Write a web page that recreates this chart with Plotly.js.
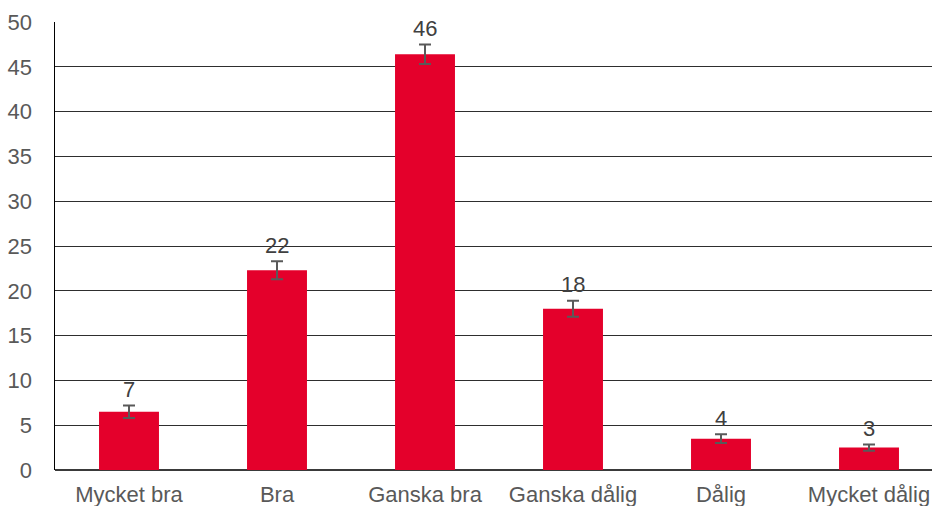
<!DOCTYPE html>
<html>
<head>
<meta charset="utf-8">
<script src="https://cdn.plot.ly/plotly-3.0.1.min.js"></script>
<style>
  html, body { margin: 0; padding: 0; overflow: hidden; background: #fff; }
  #chart { width: 950px; height: 506px; }
</style>
</head>
<body>
<div id="chart"></div>
<script>
const categories = ["Mycket bra", "Bra", "Ganska bra", "Ganska dålig", "Dålig", "Mycket dålig"];
const values = [6.5, 22.3, 46.4, 18.0, 3.5, 2.5];
const errors = [0.7, 1.0, 1.1, 0.9, 0.5, 0.35];
const labels = ["7", "22", "46", "18", "4", "3"];
const yTicks = [0, 5, 10, 15, 20, 25, 30, 35, 40, 45, 50];

const font = "Liberation Sans, Arial, sans-serif";

const bars = {
  type: "bar",
  x: categories,
  y: values,
  marker: { color: "#E4002B" },
  error_y: { type: "data", array: errors, visible: true, color: "#595959", thickness: 2, width: 6 },
  hoverinfo: "skip"
};

const annotations = categories.map((c, i) => ({
  x: c,
  y: values[i] + errors[i],
  xref: "x",
  yref: "y",
  text: labels[i],
  showarrow: false,
  yanchor: "middle",
  yshift: 16,
  font: { family: font, size: 22, color: "#404040" }
}));

const layout = {
  width: 950,
  height: 506,
  margin: { l: 55, r: 7, t: 22, b: 36 },
  paper_bgcolor: "#fff",
  plot_bgcolor: "#fff",
  showlegend: false,
  bargap: 0.595,
  font: { family: font, size: 22, color: "#595959" },
  xaxis: {
    type: "category",
    showgrid: false,
    showline: false,
    zeroline: false,
    ticks: "",
    ticklabelstandoff: 9,
    tickfont: { family: font, size: 22, color: "#595959" }
  },
  yaxis: {
    range: [0, 50],
    tickvals: yTicks,
    ticktext: yTicks.map(String),
    showgrid: true,
    gridcolor: "#2e2e2e",
    gridwidth: 1,
    zeroline: true,
    zerolinecolor: "#3a3a3a",
    zerolinewidth: 1.5,
    showline: true,
    linecolor: "#000",
    linewidth: 1.5,
    ticks: "",
    ticklabelstandoff: 17,
    tickfont: { family: font, size: 22, color: "#595959" }
  },
  annotations: annotations
};

Plotly.newPlot("chart", [bars], layout, { displayModeBar: false, staticPlot: true });
</script>
</body>
</html>
